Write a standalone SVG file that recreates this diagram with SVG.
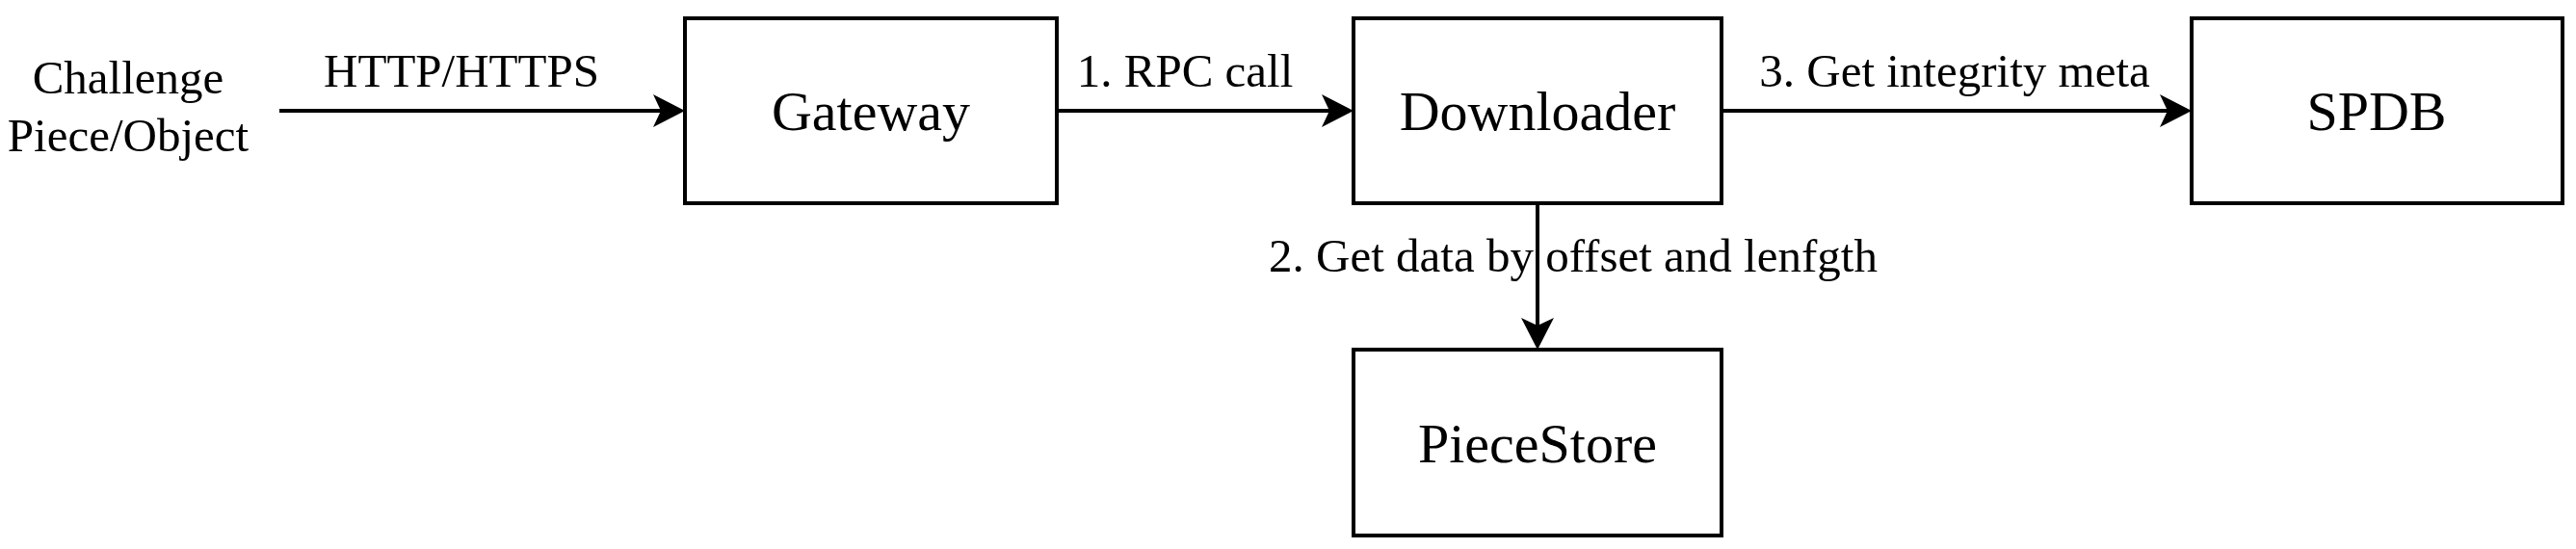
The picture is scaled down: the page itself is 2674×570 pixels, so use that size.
<svg xmlns="http://www.w3.org/2000/svg" width="2674" height="570" viewBox="0 0 2674 570">
<style>
.box{fill:#fff;stroke:#000;stroke-width:4}
.edge{fill:none;stroke:#000;stroke-width:4}
.nt{font-family:"Liberation Serif",serif;font-size:58px;text-anchor:middle;fill:#000}
.lt{font-family:"Liberation Serif",serif;font-size:49px;text-anchor:middle;fill:#000}
</style>
<defs>
<marker id="ah" markerUnits="userSpaceOnUse" markerWidth="40" markerHeight="40" refX="8" refY="17" orient="auto" overflow="visible">
<path d="M33,17 L0,0 L8,17 L0,34 Z" fill="#000"/>
</marker>
</defs>
<rect width="2674" height="570" fill="#fff"/>
<g id="connectors">
<line class="edge" x1="290" y1="115" x2="686" y2="115" marker-end="url(#ah)"/>
<line class="edge" x1="1097" y1="115" x2="1380" y2="115" marker-end="url(#ah)"/>
<line class="edge" x1="1787" y1="115" x2="2250" y2="115" marker-end="url(#ah)"/>
<line class="edge" x1="1596" y1="211" x2="1596" y2="338" marker-end="url(#ah)"/>
<text class="lt" x="479" y="90">HTTP/HTTPS</text>
<text class="lt" x="1230" y="90">1. RPC call</text>
<text class="lt" x="2029" y="90">3. Get integrity meta</text>
<text class="lt" x="1633" y="282">2. Get data by offset and lenfgth</text>
</g>
<g id="source">
<text class="lt" x="133" y="97">Challenge</text>
<text class="lt" x="133" y="157">Piece/Object</text>
</g>
<g id="gateway">
<rect class="box" x="711" y="19" width="386" height="192"/>
<text class="nt" x="904" y="135">Gateway</text>
</g>
<g id="downloader">
<rect class="box" x="1405" y="19" width="382" height="192"/>
<text class="nt" x="1596" y="135">Downloader</text>
</g>
<g id="spdb">
<rect class="box" x="2275" y="19" width="385" height="192"/>
<text class="nt" x="2467" y="135">SPDB</text>
</g>
<g id="piecestore">
<rect class="box" x="1405" y="363" width="382" height="193"/>
<text class="nt" x="1596" y="480">PieceStore</text>
</g>
</svg>
